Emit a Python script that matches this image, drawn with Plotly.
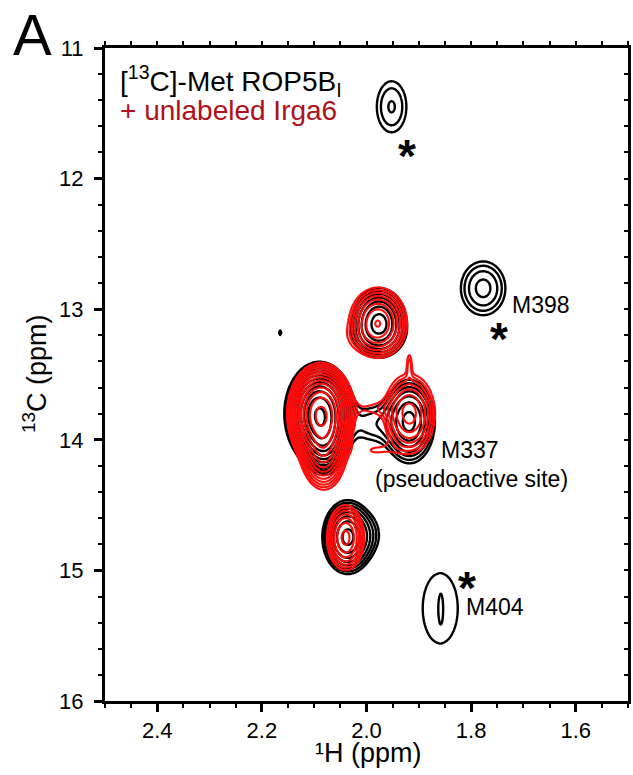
import numpy as np
import plotly.graph_objects as go

# ---------------- data: peak lists ----------------
# grid (ppm)
H_PPM = np.linspace(1.5, 2.5, 601)
C_PPM = np.linspace(11.0, 16.0, 901)

# [13C]-Met ROP5B_I alone (black)
black_h   = [1.952, 1.777, 1.859, 1.858, 2.165, 1.976, 1.980, 2.090, 2.080, 1.918, 2.036, 1.990, 1.990]
black_c   = [11.45, 12.84, 15.29, 15.30, 13.18, 13.10, 13.21, 13.80, 14.02, 13.86, 14.745, 14.72, 13.88]
black_sh  = [0.026, 0.031, 0.050, 0.0028, 0.004, 0.0277, 0.040, 0.027, 0.020, 0.026, 0.024, 0.020, 0.030]
black_sc  = [0.18, 0.15, 0.40, 0.09, 0.04, 0.14, 0.09, 0.16, 0.12, 0.17, 0.14, 0.12, 0.12]
black_amp = [1.80, 2.56, 1.25, 0.30, 1.10, 5.8, 0.6, 22.0, 6.0, 5.8, 7.7, 0.8, 1.5]

# + unlabeled Irga6 (red)
red_h   = [1.978, 2.002, 2.087, 2.082, 1.918, 1.918, 2.040, 1.990, 1.985]
red_c   = [13.10, 13.22, 13.80, 14.08, 13.80, 13.42, 14.75, 13.76, 14.08]
red_sh  = [0.028, 0.035, 0.025, 0.020, 0.026, 0.004, 0.019, 0.030, 0.030]
red_sc  = [0.135, 0.08, 0.15, 0.14, 0.16, 0.07, 0.133, 0.05, 0.05]
red_amp = [7.0, 0.7, 30.0, 10.0, 6.0, 1.2, 5.8, 1.0, 1.0]

x_ticks = [2.4, 2.2, 2.0, 1.8, 1.6]
y_ticks = [11, 12, 13, 14, 15, 16]

# annotation labels (text, H ppm, C ppm, anchor)
peak_labels = [("M398", 1.726, 12.967, "left"),
               ("M337", 1.802, 14.078, "center"),
               ("(pseudoactive site)", 1.799, 14.300, "center"),
               ("M404", 1.813, 15.28, "left")]
star_pos_h = [1.923, 1.746, 1.807]
star_pos_c = [11.765, 13.17, 15.076]

FONT = "Liberation Sans, Arial, Helvetica, sans-serif"


def spectrum(hs, cs, shs, scs, amps):
    X, Y = np.meshgrid(H_PPM, C_PPM)
    Z = np.zeros_like(X)
    for h, c, sh, sc, a in zip(hs, cs, shs, scs, amps):
        Z += a * np.exp(-0.5 * ((X - h) / sh) ** 2 - 0.5 * ((Y - c) / sc) ** 2)
    return np.log(Z + 1e-3).astype(np.float32)


zb = spectrum(black_h, black_c, black_sh, black_sc, black_amp)
zr = spectrum(red_h, red_c, red_sh, red_sc, red_amp)

LEVELS = dict(start=0.0, end=4.0, size=0.28, coloring="lines")

fig = go.Figure()
fig.add_trace(go.Contour(x=H_PPM, y=C_PPM, z=zb, contours=LEVELS,
                         colorscale=[[0, "black"], [1, "black"]], showscale=False,
                         line=dict(width=2.4), hoverinfo="skip", name="ROP5B"))
fig.add_trace(go.Contour(x=H_PPM, y=C_PPM, z=zr, contours=LEVELS,
                         colorscale=[[0, "#ff0d0d"], [1, "#ff0d0d"]], showscale=False,
                         line=dict(width=2.1), hoverinfo="skip", name="+Irga6"))
# helper trace for the mirrored (top / right) tick axes
fig.add_trace(go.Scatter(x=[None], y=[None], xaxis="x2", yaxis="y2",
                         showlegend=False, hoverinfo="skip"))

for txt, h, c, anchor in peak_labels:
    fig.add_annotation(x=h, y=c, text=txt, showarrow=False, xanchor=anchor,
                       yanchor="middle", font=dict(family=FONT, size=23, color="black"))
for h, c in zip(star_pos_h, star_pos_c):
    fig.add_annotation(x=h, y=c, text="<b>*</b>", showarrow=False, xanchor="center",
                       yanchor="middle", yshift=-8,
                       font=dict(family=FONT, size=46, color="black"))

fig.add_annotation(xref="paper", yref="paper", x=-0.138, y=1.0735, text="A",
                   showarrow=False, xanchor="center", yanchor="top",
                   font=dict(family=FONT, size=58, color="black"))
fig.add_annotation(xref="paper", yref="paper", x=0.024, y=0.950,
                   text="[<sup>13</sup>C]-Met ROP5B<sub>I</sub>", showarrow=False,
                   xanchor="left", yanchor="middle",
                   font=dict(family=FONT, size=28, color="black"))
fig.add_annotation(xref="paper", yref="paper", x=0.024, y=0.905,
                   text="+ unlabeled Irga6", showarrow=False,
                   xanchor="left", yanchor="middle",
                   font=dict(family=FONT, size=28, color="#b0101a"))
# axis titles
fig.add_annotation(xref="paper", yref="paper", x=(368 - 105) / 523, y=(701 - 753) / 653,
                   text="\u00b9H (ppm)", showarrow=False, xanchor="center",
                   yanchor="middle", font=dict(family=FONT, size=27, color="black"))
fig.add_annotation(xref="paper", yref="paper", x=(35 - 105) / 523, y=(701 - 374) / 653,
                   text="<sup>13</sup>C (ppm)", showarrow=False, xanchor="center",
                   yanchor="middle", textangle=-90,
                   font=dict(family=FONT, size=27, color="black"))

axis_common = dict(showline=True, linewidth=3, linecolor="black", showgrid=False,
                   zeroline=False, ticks="outside", ticklen=8, tickwidth=3,
                   tickcolor="black", tickfont=dict(family=FONT, size=22, color="black"))

fig.update_layout(
    width=633, height=775, margin=dict(l=105, r=5, t=48, b=74),
    paper_bgcolor="white", plot_bgcolor="white", showlegend=False,
    xaxis=dict(range=[2.5, 1.5], tickvals=x_ticks, ticktext=[f"{v:.1f}" for v in x_ticks],
               minor=dict(dtick=0.05, tick0=0, ticks="outside", ticklen=4, tickwidth=2,
                          tickcolor="black"),
               **axis_common),
    yaxis=dict(range=[16, 11], tickvals=y_ticks, ticktext=[str(v) for v in y_ticks],
               ticklabelstandoff=6,
               minor=dict(dtick=0.2, tick0=0, ticks="outside", ticklen=4, tickwidth=2,
                          tickcolor="black"),
               **axis_common),
    xaxis2=dict(overlaying="x", side="top", range=[2.5, 1.5], showline=True, linewidth=3,
                linecolor="black", showgrid=False, zeroline=False, showticklabels=False,
                ticks="outside", ticklen=4, tickwidth=2, tickcolor="black",
                tickvals=[round(2.5 - 0.05 * i, 2) for i in range(21)]),
    yaxis2=dict(overlaying="y", side="right", range=[16, 11], showline=True, linewidth=3,
                linecolor="black", showgrid=False, zeroline=False, showticklabels=False,
                ticks="inside", ticklen=4, tickwidth=2, tickcolor="black",
                tickvals=[round(11 + 0.2 * i, 1) for i in range(26)]),
)

fig.write_html("out.html")
